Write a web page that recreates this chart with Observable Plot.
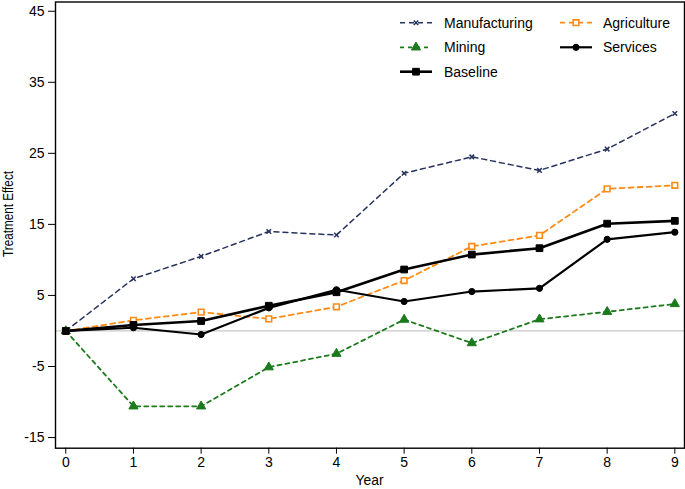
<!DOCTYPE html>
<html>
<head>
<meta charset="utf-8">
<script src="https://cdn.jsdelivr.net/npm/d3@7"></script>
<script src="https://cdn.jsdelivr.net/npm/@observablehq/plot@0.6"></script>
<style>
  html, body { margin: 0; padding: 0; background: #fff; }
  #chart { position: relative; width: 685px; height: 489px; }
</style>
</head>
<body>
<div id="chart"></div>
<script>
const years = [0, 1, 2, 3, 4, 5, 6, 7, 8, 9];
const manufacturing = [0, 7.35, 10.5, 14.0, 13.5, 22.2, 24.5, 22.6, 25.6, 30.6];
const agriculture   = [0, 1.5, 2.65, 1.7, 3.4, 7.1, 11.9, 13.45, 20.0, 20.5];
const mining        = [0, -10.6, -10.6, -5.1, -3.2, 1.6, -1.7, 1.65, 2.7, 3.8];
const services      = [0, 0.45, -0.5, 3.25, 5.8, 4.15, 5.55, 6.0, 12.9, 13.9];
const baseline      = [0, 0.85, 1.4, 3.55, 5.45, 8.65, 10.75, 11.65, 15.1, 15.5];
const yTicks = [-15, -5, 5, 15, 25, 35, 45];
const xTicks = years;
const xTitle = "Year";
const yTitle = "Treatment Effect";

const NAVY = "#27325f", ORANGE = "#ff8a14", GREEN = "#1b7a1b", BLACK = "#000";
const FONT = "Liberation Sans, Arial, sans-serif";

const series = [
  {name: "Manufacturing", values: manufacturing, color: NAVY, dash: "5,4", width: 1.5, symbol: "times", r: 2.2, fill: "none", sw: 1.5},
  {name: "Agriculture", values: agriculture, color: ORANGE, dash: "5,4", width: 1.8, symbol: "square", r: 3.2, fill: "white", sw: 1.6},
  {name: "Mining", values: mining, color: GREEN, dash: "4,4", width: 1.8, symbol: "triangle", r: 3.4, fill: GREEN, sw: 1},
  {name: "Services", values: services, color: BLACK, dash: null, width: 2.2, symbol: "circle", r: 3.1, fill: BLACK, sw: 1},
  {name: "Baseline", values: baseline, color: BLACK, dash: null, width: 2.6, symbol: "square", r: 3.8, fill: BLACK, sw: 1}
];

const marks = [Plot.ruleY([0], {stroke: "#c8c8c8", strokeWidth: 1.2})];
for (const s of series) {
  const data = years.map((y, i) => ({year: y, value: s.values[i]}));
  marks.push(Plot.line(data, {x: "year", y: "value", stroke: s.color, strokeWidth: s.width, strokeDasharray: s.dash || undefined}));
}
for (const s of series) {
  const data = years.map((y, i) => ({year: y, value: s.values[i]}));
  marks.push(Plot.dot(data, {x: "year", y: "value", symbol: s.symbol, r: s.r, stroke: s.color, strokeWidth: s.sw, fill: s.fill}));
}
marks.push(Plot.axisX({ticks: xTicks, tickSize: 6, tickPadding: 3, tickFormat: d => String(d), fontSize: 14, label: null}));
marks.push(Plot.axisY({ticks: yTicks, tickSize: 7, tickPadding: 4, tickFormat: d => String(d), fontSize: 14, label: null}));
marks.push(Plot.frame({stroke: "#000", strokeWidth: 1.4}));

const chart = Plot.plot({
  width: 685,
  height: 489,
  marginLeft: 55,
  marginRight: 1,
  marginTop: 1.5,
  marginBottom: 41.3,
  style: {fontSize: "14px", fontFamily: FONT, color: "#000", background: "#fff"},
  x: {domain: [-0.152, 9.143]},
  y: {domain: [-16.5, 46.3]},
  marks
});
document.getElementById("chart").appendChild(chart);

const svg = d3.select(chart);
// Axis titles
svg.append("text").attr("x", 369.5).attr("y", 480).attr("dy", "0.35em")
  .attr("text-anchor", "middle").attr("font-family", FONT).attr("font-size", 14)
  .attr("textLength", 28).attr("lengthAdjust", "spacingAndGlyphs").attr("fill", "#000").text(xTitle);
svg.append("text").attr("transform", "translate(8,214) rotate(-90)").attr("dy", "0.35em")
  .attr("text-anchor", "middle").attr("font-family", FONT).attr("font-size", 15)
  .attr("textLength", 86).attr("lengthAdjust", "spacingAndGlyphs").attr("fill", "#000").text(yTitle);

// Legend inside the frame, top right
const legend = svg.append("g").attr("font-family", FONT).attr("font-size", 14).attr("text-anchor", "start");
const cols = [400, 560];
const rows = [22.7, 47.3, 71.7];
const order = ["Manufacturing", "Agriculture", "Mining", "Services", "Baseline"];
const symTypes = {times: d3.symbolTimes, square: d3.symbolSquare, triangle: d3.symbolTriangle, circle: d3.symbolCircle};
order.forEach((name, i) => {
  const s = series.find(d => d.name === name);
  const x0 = cols[i % 2], y0 = rows[Math.floor(i / 2)];
  const g = legend.append("g");
  g.append("line").attr("x1", x0).attr("x2", x0 + 32).attr("y1", y0).attr("y2", y0)
    .attr("stroke", s.color).attr("stroke-width", s.width).attr("stroke-dasharray", s.dash || null);
  const sym = d3.symbol().type(symTypes[s.symbol]).size(Math.PI * s.r * s.r);
  g.append("path").attr("d", sym()).attr("transform", `translate(${x0 + 16},${y0})`)
    .attr("fill", s.fill).attr("stroke", s.color).attr("stroke-width", s.sw);
  g.append("text").attr("x", x0 + (i % 2 ? 43 : 44)).attr("y", y0).attr("dy", "0.35em")
    .attr("fill", "#000").attr("text-anchor", "start").text(name);
});
</script>
</body>
</html>
